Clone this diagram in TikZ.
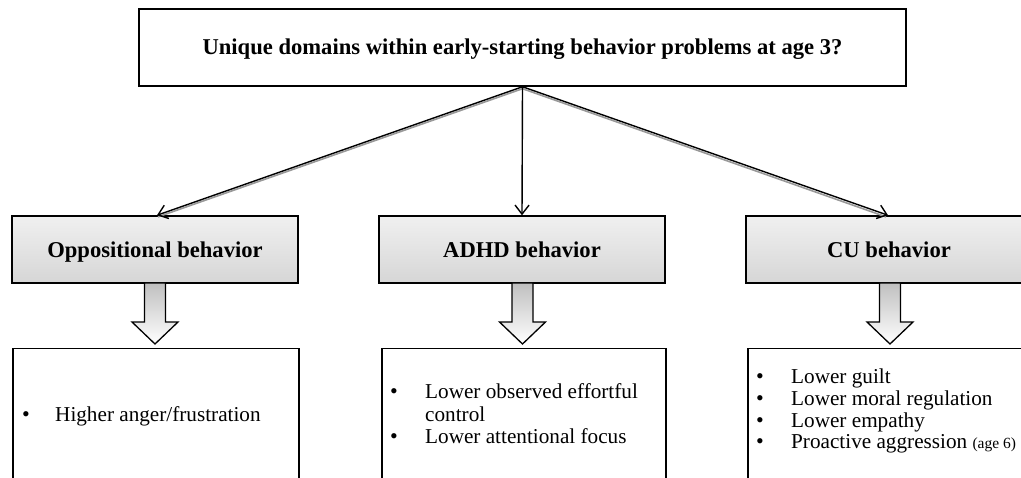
\documentclass[tikz,border=0pt]{standalone}
\usepackage{fontspec}
\setmainfont{Liberation Serif}
\usetikzlibrary{arrows.meta,shadows}
\definecolor{hdtop}{RGB}{240,240,240}
\definecolor{hdbot}{RGB}{214,214,214}
\tikzset{
  frame/.style={draw=black,line width=1.5pt,rectangle,inner sep=0pt},
  topbox/.style={frame,fill=white,minimum width=767pt,minimum height=77pt,
     font=\fontsize{22.6}{25}\selectfont\bfseries,text height=17pt,text depth=2pt,
     drop shadow={shadow xshift=1pt,shadow yshift=-1.2pt,fill=black!45,opacity=0.6}},
  headbox/.style={frame,top color=hdtop,bottom color=hdbot,minimum width=286pt,minimum height=67pt,
     font=\fontsize{22.6}{25}\selectfont\bfseries,text height=19pt,text depth=2pt,
     drop shadow={shadow xshift=1pt,shadow yshift=-1.5pt,fill=black!45,opacity=0.6}},
  listbox/.style={frame,fill=white,minimum width=286pt,minimum height=170pt},
  item/.style={anchor=base west,inner sep=0pt,font=\fontsize{21.2}{22}\selectfont},
  bul/.style={anchor=base,inner sep=0pt,font=\fontsize{22}{22}\selectfont},
  conn/.style={line width=1.4pt,-{Straight Barb[length=9pt,width=14pt,line width=1.4pt]}},
  connshadow/.style={line width=1.6pt,draw=black!40},
  blockarrow/.style={draw=black,line width=1.3pt,line join=miter,top color=black!25,bottom color=white},
}
\begin{document}
\begin{tikzpicture}[x=1pt,y=-1pt]
\useasboundingbox (0,0) rectangle (1021,478);
\clip (0,0) rectangle (1021,478);

% top question
\node[topbox] (top) at (522.5,47.5) {Unique domains within early-starting behavior problems at age 3?};

% headings
\node[headbox] (h1) at (155,249.5) {Oppositional behavior};
\node[headbox] (h2) at (522,249.5) {ADHD behavior};
\node[headbox] (h3) at (889,249.5) {CU behavior};

% connectors
\coordinate (apex) at (top.south);
\draw[connshadow] ([shift={(1,1.6)}]apex) -- ([shift={(3,1.6)}]h1.north);
\draw[connshadow] ([shift={(-1,1.6)}]apex) -- ([shift={(-3,1.6)}]h3.north);
\draw[conn] (apex) -- ([xshift=2pt]h1.north);
\draw[conn] (apex) -- (h2.north);
\draw[conn] (apex) -- ([xshift=-1pt]h3.north);

% block arrows
\foreach \h/\cx in {h1/155,h2/522.5,h3/890}{
  \draw[blockarrow] (\cx-10.5,283) -- (\cx+10.5,283) -- (\cx+10.5,322) -- (\cx+23,322)
     -- (\cx,344) -- (\cx-23,322) -- (\cx-10.5,322) -- cycle;
}

% list boxes
\node[listbox,anchor=north west] (b1) at (12,348) {};
\node[listbox,anchor=north west,minimum width=284pt] (b2) at (381,348) {};
\node[listbox,anchor=north west] (b3) at (747,348) {};

% list texts
\node[bul] at (26,421.5) {•};
\node[item] (t1) at (55,421.5) {Higher anger/frustration};

\node[bul] at (394,399) {•};
\node[item] (t2a) at (425,399) {Lower observed effortful};
\node[item] (t2b) at (425,421) {control};
\node[bul] at (394,443.5) {•};
\node[item] (t2c) at (425,443.5) {Lower attentional focus};

\node[bul] at (760,384) {•};
\node[item] (t3a) at (791,384) {Lower guilt};
\node[bul] at (760,406) {•};
\node[item] (t3b) at (791,406) {Lower moral regulation};
\node[bul] at (760,427.5) {•};
\node[item] (t3c) at (791,427.5) {Lower empathy};
\node[bul] at (760,449) {•};
\node[item] (t3d) at (791,449) {Proactive aggression {\fontsize{15.5}{16}\selectfont(age 6)}};
\end{tikzpicture}
\end{document}
